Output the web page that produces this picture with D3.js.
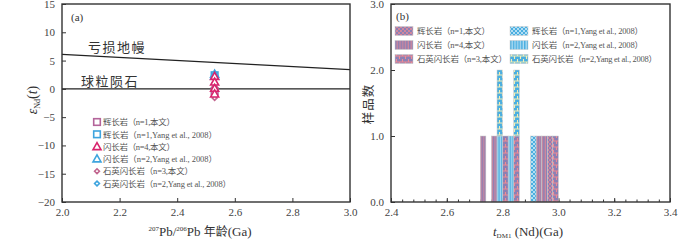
<!DOCTYPE html>
<html>
<head>
<meta charset="utf-8">
<script src="https://cdn.jsdelivr.net/npm/d3@7"></script>
<style>
  body { margin: 0; background: #fff; }
  svg { display: block; }
  text { font-family: "Liberation Serif", "Noto Sans CJK SC", serif; fill: #333; }
</style>
</head>
<body>
<div id="chart"></div>
<script>
// ---- data ----
// (a) eNd(t) vs 207Pb/206Pb age
var ageA = 2.53;
var dmLine = [[2.0, 6.1], [3.0, 3.4]];   // depleted mantle
var churLine = [[2.0, 0], [3.0, 0]];     // CHUR
var epsGabbroThis = [-0.4];
var epsGabbroYang = [2.4];
var epsDioriteThis = [2.2, 1.2, 0.1, -0.9];
var epsDioriteYang = [2.6, 2.3];
var epsQDioriteThis = [0.4, -1.1, -1.6];
var epsQDioriteYang = [2.2, 1.9];

// (b) tDM1 histogram, bin start values (bin width 0.02 Ga)
var binWidth = 0.02;
var tdmGabbroThis = [2.96];
var tdmDioriteThis = [2.72, 2.76, 2.92, 2.94];
var tdmQDioriteThis = [2.80, 2.84, 2.98];
var tdmGabbroYang = [2.90];
var tdmDioriteYang = [2.78, 2.82];
var tdmQDioriteYang = [2.78, 2.84];

var legendNames = [
  "辉长岩（n=1,本文）",
  "辉长岩（n=1,Yang et al., 2008）",
  "闪长岩（n=4,本文）",
  "闪长岩（n=2,Yang et al., 2008）",
  "石英闪长岩（n=3,本文）",
  "石英闪长岩（n=2,Yang et al., 2008）"
];

var xTicksA = [2.0, 2.2, 2.4, 2.6, 2.8, 3.0];
var yTicksA = [15, 10, 5, 0, -5, -10, -15, -20];
var xTicksB = [2.4, 2.6, 2.8, 3.0, 3.2, 3.4];
var yTicksB = [0, 1, 2, 3];

// ---- layout ----
var W = 700, H = 240;
var pa = { left: 62, right: 350, top: 4, bottom: 202 };
var pb = { left: 391, right: 670, top: 4, bottom: 202 };
// legend text widths (px) so the spacing follows the original typesetting
var legWidthA = [72, 114, 72, 114, 90, 128];
var legWidthB = [73, 111, 73, 111, 90, 125];

var svg = d3.select("#chart").append("svg")
  .attr("width", W).attr("height", H);

var purple = "#8b80b4", pink = "#ef8a93";
var blue = "#4aaee0", paleBlue = "#dff2fb", paleYellow = "#f3eeb4";

// patterns
var defs = svg.append("defs");
function stripePat(id, base, accent) {
  var p = defs.append("pattern").attr("id", id)
    .attr("patternUnits", "userSpaceOnUse").attr("width", 2.8).attr("height", 4);
  p.append("rect").attr("width", 2.8).attr("height", 4).attr("fill", base);
  p.append("rect").attr("x", 1.6).attr("width", 0.9).attr("height", 4).attr("fill", accent);
}
function crossPat(id, base, accent) {
  var p = defs.append("pattern").attr("id", id)
    .attr("patternUnits", "userSpaceOnUse").attr("width", 4).attr("height", 4);
  p.append("rect").attr("width", 4).attr("height", 4).attr("fill", base);
  p.append("path").attr("d", "M0,2 L2,0 L4,2 L2,4 Z")
    .attr("fill", "none").attr("stroke", accent).attr("stroke-width", 0.7);
}
function brickPat(id, base, accent) {
  var p = defs.append("pattern").attr("id", id)
    .attr("patternUnits", "userSpaceOnUse").attr("width", 6).attr("height", 6);
  p.append("rect").attr("width", 6).attr("height", 6).attr("fill", base);
  p.append("path").attr("d", "M0,3 H6 M1.5,0 V3 M4.5,3 V6")
    .attr("stroke", accent).attr("stroke-width", 1.1);
}
crossPat("crossP", purple, pink);
stripePat("stripeP", purple, pink);
brickPat("brickP", purple, pink);
crossPat("crossB", blue, paleBlue);
stripePat("stripeB", blue, paleBlue);
brickPat("brickB", blue, paleYellow);

// ================= panel (a) =================
var xA = d3.scaleLinear().domain([2.0, 3.0]).range([pa.left, pa.right]);
var yA = d3.scaleLinear().domain([-20, 15]).range([pa.bottom, pa.top]);
var gA = svg.append("g");

gA.append("g")
  .attr("transform", "translate(0," + pa.bottom + ")")
  .call(d3.axisBottom(xA).tickValues(xTicksA).tickFormat(d3.format(".1f"))
    .tickSize(-4).tickPadding(6))
  .call(function(g) { g.select(".domain").remove(); });
gA.append("g")
  .attr("transform", "translate(" + pa.left + ",0)")
  .call(d3.axisLeft(yA).tickValues(yTicksA).tickSize(-4).tickPadding(7))
  .call(function(g) { g.select(".domain").remove(); });

var line = d3.line().x(function(d) { return xA(d[0]); }).y(function(d) { return yA(d[1]); });
gA.append("path").datum(dmLine).attr("d", line)
  .attr("fill", "none").attr("stroke", "#222").attr("stroke-width", 1.3);
gA.append("path").datum(churLine).attr("d", line)
  .attr("fill", "none").attr("stroke", "#222").attr("stroke-width", 1.2);

gA.append("text").attr("x", 88).attr("y", 52).attr("font-size", 13)
  .attr("letter-spacing", 1.5).attr("font-family", "Noto Sans CJK SC")
  .text("亏损地幔");
gA.append("text").attr("x", 81).attr("y", 86).attr("font-size", 13)
  .attr("letter-spacing", 1.5).attr("font-family", "Noto Sans CJK SC")
  .text("球粒陨石");
gA.append("text").attr("x", 71).attr("y", 21).attr("font-size", 11).text("(a)");

// marker styles
var mauve = "#b4649a", magenta = "#d8236d", sky = "#3ea4de", rose = "#c2668f";
var seriesA = [
  { vals: epsGabbroYang, shape: "square", color: sky },
  { vals: epsDioriteYang, shape: "triangle", color: sky },
  { vals: epsQDioriteYang, shape: "diamond", color: sky },
  { vals: epsGabbroThis, shape: "square", color: mauve },
  { vals: epsQDioriteThis, shape: "diamond", color: rose },
  { vals: epsDioriteThis, shape: "triangle", color: magenta }
];
function marker(sel, shape, color) {
  if (shape === "square") {
    sel.append("rect").attr("x", -3.3).attr("y", -3.3).attr("width", 6.6).attr("height", 6.6)
      .attr("fill", "#fff").attr("stroke", color).attr("stroke-width", 1.6);
  } else if (shape === "triangle") {
    sel.append("path").attr("d", "M0,-4 L4,3 L-4,3 Z")
      .attr("fill", "#fff").attr("stroke", color).attr("stroke-width", 1.6);
  } else {
    sel.append("path").attr("d", "M0,-2.4 L2.4,0 L0,2.4 L-2.4,0 Z")
      .attr("fill", "#fff").attr("stroke", color).attr("stroke-width", 1.6);
  }
}
seriesA.forEach(function(s) {
  gA.selectAll(null).data(s.vals).enter().append("g")
    .attr("transform", function(d) { return "translate(" + xA(ageA) + "," + yA(d) + ")"; })
    .each(function() { marker(d3.select(this), s.shape, s.color); });
});

// legend (a)
var legA = [
  { shape: "square", color: mauve }, { shape: "square", color: sky },
  { shape: "triangle", color: magenta }, { shape: "triangle", color: sky },
  { shape: "diamond", color: rose }, { shape: "diamond", color: sky }
];
var legAg = gA.selectAll(".legA").data(legA).enter().append("g")
  .attr("class", "legA")
  .attr("transform", function(d, i) { return "translate(97," + (122 + i * 12.3) + ")"; });
legAg.each(function(d) { marker(d3.select(this), d.shape, d.color); });
legAg.append("text").attr("x", 6).attr("y", 3.2).attr("font-size", 8.5)
  .attr("textLength", function(d, i) { return legWidthA[i]; })
  .attr("lengthAdjust", "spacing")
  .style("fill", "#555")
  .text(function(d, i) { return legendNames[i]; });

gA.append("rect").attr("x", pa.left).attr("y", pa.top)
  .attr("width", pa.right - pa.left).attr("height", pa.bottom - pa.top)
  .attr("fill", "none").attr("stroke", "#333").attr("stroke-width", 1.4);

// axis titles (a)
var ytA = gA.append("text").attr("transform", "translate(37," + 100 + ") rotate(-90)")
  .attr("text-anchor", "middle").attr("font-size", 14);
ytA.append("tspan").attr("font-style", "italic").text("ε");
ytA.append("tspan").attr("font-size", 8).attr("dy", 3).text("Nd");
ytA.append("tspan").attr("dy", -3).text("(");
ytA.append("tspan").attr("font-style", "italic").text("t");
ytA.append("tspan").text(")");

var xtA = gA.append("text").attr("x", 200).attr("y", 236)
  .attr("text-anchor", "middle").attr("font-size", 13);
xtA.append("tspan").attr("font-size", 7).attr("dy", -5).text("207");
xtA.append("tspan").attr("dy", 5).text("Pb/");
xtA.append("tspan").attr("font-size", 7).attr("dy", -5).text("206");
xtA.append("tspan").attr("dy", 5).text("Pb ");
xtA.append("tspan").attr("font-family", "Noto Sans CJK SC").attr("font-size", 12).text("年龄");
xtA.append("tspan").text("(Ga)");

// ================= panel (b) =================
var xB = d3.scaleLinear().domain([2.4, 3.4]).range([pb.left, pb.right]);
var yB = d3.scaleLinear().domain([0, 3]).range([pb.bottom, pb.top]);
var gB = svg.append("g");

gB.append("g")
  .attr("transform", "translate(0," + pb.bottom + ")")
  .call(d3.axisBottom(xB).tickValues(d3.range(2.4, 3.41, 0.04)).tickFormat("").tickSize(-2.5))
  .call(function(g) { g.select(".domain").remove(); });
gB.append("g")
  .attr("transform", "translate(0," + pb.bottom + ")")
  .call(d3.axisBottom(xB).tickValues(xTicksB).tickFormat(d3.format(".1f"))
    .tickSize(-4).tickPadding(6))
  .call(function(g) { g.select(".domain").remove(); });
gB.append("g")
  .attr("transform", "translate(" + pb.left + ",0)")
  .call(d3.axisLeft(yB).tickValues(yTicksB).tickSize(-4).tickPadding(7))
  .call(function(g) { g.select(".domain").remove(); });

// stack samples into bins in series order
var seriesB = [
  { vals: tdmGabbroThis, fill: "url(#crossP)" },
  { vals: tdmDioriteThis, fill: "url(#stripeP)" },
  { vals: tdmQDioriteThis, fill: "url(#brickP)" },
  { vals: tdmGabbroYang, fill: "url(#crossB)" },
  { vals: tdmDioriteYang, fill: "url(#stripeB)" },
  { vals: tdmQDioriteYang, fill: "url(#brickB)" }
];
var binCount = {};
var bars = [];
seriesB.forEach(function(s) {
  s.vals.forEach(function(v) {
    var k = v.toFixed(2);
    var y0 = binCount[k] || 0;
    bars.push({ x: v, y0: y0, y1: y0 + 1, fill: s.fill });
    binCount[k] = y0 + 1;
  });
});
gB.selectAll(".bar").data(bars).enter().append("rect")
  .attr("class", "bar")
  .attr("x", function(d) { return xB(d.x); })
  .attr("width", function(d) { return xB(d.x + binWidth) - xB(d.x); })
  .attr("y", function(d) { return yB(d.y1); })
  .attr("height", function(d) { return yB(d.y0) - yB(d.y1); })
  .attr("fill", function(d) { return d.fill; })
  .attr("stroke", "#c9c9c9").attr("stroke-width", 0.5);

gB.append("text").attr("x", 396).attr("y", 20).attr("font-size", 11).text("(b)");

// legend (b)
var legB = [
  { fill: "url(#crossP)", col: 0, row: 0, idx: 0 },
  { fill: "url(#stripeP)", col: 0, row: 1, idx: 2 },
  { fill: "url(#brickP)", col: 0, row: 2, idx: 4 },
  { fill: "url(#crossB)", col: 1, row: 0, idx: 1 },
  { fill: "url(#stripeB)", col: 1, row: 1, idx: 3 },
  { fill: "url(#brickB)", col: 1, row: 2, idx: 5 }
];
var legBg = gB.selectAll(".legB").data(legB).enter().append("g")
  .attr("class", "legB")
  .attr("transform", function(d) { return "translate(" + (d.col ? 510 : 395) + "," + (31 + d.row * 14) + ")"; });
legBg.append("rect").attr("x", 0).attr("y", -4.5).attr("width", 18).attr("height", 9)
  .attr("fill", function(d) { return d.fill; }).attr("stroke", "#c9c9c9").attr("stroke-width", 0.5);
legBg.append("text").attr("x", 22).attr("y", 3.2).attr("font-size", 8.5)
  .attr("textLength", function(d) { return legWidthB[d.idx]; })
  .attr("lengthAdjust", "spacing")
  .style("fill", "#555").text(function(d) { return legendNames[d.idx]; });

gB.append("rect").attr("x", pb.left).attr("y", pb.top)
  .attr("width", pb.right - pb.left).attr("height", pb.bottom - pb.top)
  .attr("fill", "none").attr("stroke", "#333").attr("stroke-width", 1.4);

// axis titles (b)
gB.append("text").attr("transform", "translate(373,104) rotate(-90)")
  .attr("text-anchor", "middle").attr("font-size", 12.5).attr("letter-spacing", 1)
  .attr("font-family", "Noto Sans CJK SC").text("样品数");
var xtB = gB.append("text").attr("x", 528).attr("y", 236)
  .attr("text-anchor", "middle").attr("font-size", 13);
xtB.append("tspan").attr("font-style", "italic").text("t");
xtB.append("tspan").attr("font-size", 7).attr("dy", 2).text("DM1");
xtB.append("tspan").attr("dy", -2).text(" (Nd)(Ga)");

// tick text styling
svg.selectAll(".tick text").attr("font-size", 11).style("fill", "#444")
  .attr("font-family", "Liberation Serif");
svg.selectAll(".tick line").attr("stroke", "#333");
</script>
</body>
</html>
